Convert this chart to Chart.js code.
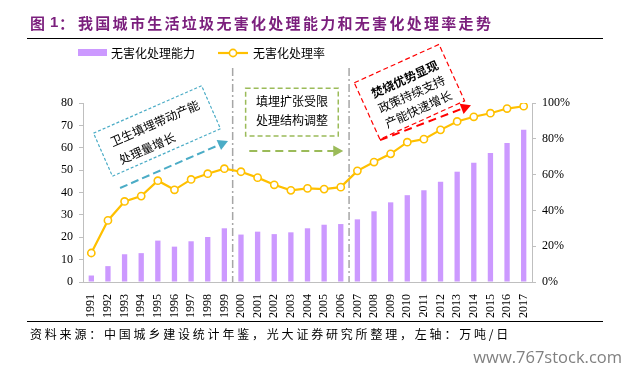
<!DOCTYPE html>
<html>
<head>
<meta charset="utf-8">
<script src="https://cdn.jsdelivr.net/npm/chart.js@4.4.1/dist/chart.umd.min.js"></script>
<style>
  html, body { margin: 0; padding: 0; background: #fff; }
  #wrap { width: 626px; height: 371px; position: relative; }
</style>
</head>
<body>
<div id="wrap"><canvas id="chart"></canvas></div>
<script>
// 年份
var years = ['1991', '1992', '1993', '1994', '1995', '1996', '1997', '1998', '1999', '2000',
  '2001', '2002', '2003', '2004', '2005', '2006', '2007', '2008', '2009', '2010',
  '2011', '2012', '2013', '2014', '2015', '2016', '2017'];
// 无害化处理能力（万吨/日，左轴）
var capacity = [2.9, 7.1, 12.4, 12.9, 18.5, 15.8, 18.2, 20.1, 24.0, 21.2,
  22.5, 21.4, 22.2, 24.0, 25.6, 25.9, 28.0, 31.6, 35.6, 38.8,
  41.0, 44.8, 49.3, 53.3, 57.7, 62.1, 68.0];
// 无害化处理率（%，右轴）
var rate = [16.2, 34.4, 45.0, 48.0, 56.6, 51.5, 57.3, 60.5, 63.3, 61.6,
  58.3, 54.3, 51.2, 52.3, 51.9, 53.0, 62.1, 67.0, 71.6, 78.1,
  79.8, 85.0, 89.7, 92.3, 94.3, 96.9, 98.2];
// 刻度
var leftTicks = [0, 10, 20, 30, 40, 50, 60, 70, 80];
var rightTicks = [0, 20, 40, 60, 80, 100];

var BAR = '#cc99ff';
var GOLD = '#ffc000';
var CJK = '"Noto Sans CJK SC", sans-serif';
var SERIF = '"Liberation Serif", "Times New Roman", serif';

// point in data space -> pixels
function pt(chart, i, v) {
  return [chart.scales.x.getPixelForValue(i), chart.scales.y.getPixelForValue(v)];
}

function arrow(ctx, a, b, color, dash) {
  var ang = Math.atan2(b[1] - a[1], b[0] - a[0]);
  ctx.save();
  ctx.strokeStyle = color;
  ctx.fillStyle = color;
  ctx.lineWidth = 2;
  ctx.setLineDash(dash);
  ctx.beginPath();
  ctx.moveTo(a[0], a[1]);
  ctx.lineTo(b[0] - 8 * Math.cos(ang), b[1] - 8 * Math.sin(ang));
  ctx.stroke();
  ctx.setLineDash([]);
  ctx.translate(b[0], b[1]);
  ctx.rotate(ang);
  ctx.beginPath();
  ctx.moveTo(0, 0);
  ctx.lineTo(-10, -5.5);
  ctx.lineTo(-10, 5.5);
  ctx.closePath();
  ctx.fill();
  ctx.restore();
}

// rotated dashed box with left aligned lines of text
function noteBox(ctx, c, w, h, deg, color, dash, lines) {
  ctx.save();
  ctx.translate(c[0], c[1]);
  ctx.rotate(deg * Math.PI / 180);
  ctx.strokeStyle = color;
  ctx.lineWidth = 1.2;
  ctx.setLineDash(dash);
  ctx.strokeRect(-w / 2, -h / 2, w, h);
  ctx.setLineDash([]);
  ctx.fillStyle = '#000';
  ctx.textBaseline = 'middle';
  ctx.textAlign = 'left';
  lines.forEach(function (l) {
    ctx.font = (l.bold ? 'bold ' : '') + '12px ' + CJK;
    ctx.fillText(l.text, l.x, l.y);
  });
  ctx.restore();
}

// draw text glyph by glyph with a fixed advance
function spaced(ctx, str, x, y, step) {
  for (var k = 0; k < str.length; k++) {
    var ch = str[k];
    ctx.fillText(ch, x, y);
    x += (ch === '/') ? step / 2 : step;
  }
}

var decor = {
  id: 'decor',
  beforeDatasetsDraw: function (chart) {
    var ctx = chart.ctx;
    // 分期虚线
    ctx.save();
    ctx.strokeStyle = '#a6a6a6';
    ctx.lineWidth = 1.5;
    ctx.setLineDash([8, 3, 2, 3]);
    [8.5, 15.5].forEach(function (i) {
      var top = pt(chart, i, 95.6), bot = pt(chart, i, 0);
      ctx.beginPath();
      ctx.moveTo(top[0], top[1]);
      ctx.lineTo(bot[0], bot[1]);
      ctx.stroke();
    });
    ctx.restore();
  },
  afterDraw: function (chart) {
    var ctx = chart.ctx;
    ctx.save();

    // 标题
    ctx.fillStyle = '#7b1f7d';
    ctx.textBaseline = 'middle';
    ctx.font = 'bold 15px ' + CJK;
    ctx.fillText('图', 30, 23);
    ctx.font = 'bold 15px "Liberation Sans", Arial, sans-serif';
    ctx.fillText('1', 50, 23);
    ctx.font = 'bold 15px ' + CJK;
    ctx.fillText('：', 59, 23);
    spaced(ctx, '我国城市生活垃圾无害化处理能力和无害化处理率走势', 78, 23, 17.3);

    // 横线
    ctx.strokeStyle = '#000';
    ctx.lineWidth = 1.2;
    ctx.beginPath();
    ctx.moveTo(27, 38.5); ctx.lineTo(603, 38.5);
    ctx.moveTo(27, 321.5); ctx.lineTo(603, 321.5);
    ctx.stroke();

    // 图例
    ctx.fillStyle = BAR;
    ctx.fillRect(78, 49, 29, 7);
    ctx.fillStyle = '#000';
    ctx.font = '12px ' + CJK;
    ctx.fillText('无害化处理能力', 111, 53);
    ctx.strokeStyle = GOLD;
    ctx.lineWidth = 2.2;
    ctx.beginPath(); ctx.moveTo(218, 53); ctx.lineTo(248, 53); ctx.stroke();
    ctx.fillStyle = '#fff';
    ctx.lineWidth = 1.6;
    ctx.beginPath(); ctx.arc(233, 53, 3.6, 0, Math.PI * 2); ctx.fill(); ctx.stroke();
    ctx.fillStyle = '#000';
    ctx.fillText('无害化处理率', 253, 53);

    // 注释框
    noteBox(ctx, pt(chart, 3.95, 67.5), 118, 47, -23.7, '#4bacc6', [3, 2], [
      { text: '卫生填埋带动产能', x: -47, y: -8 },
      { text: '处理量增长', x: -46, y: 12 }
    ]);
    arrow(ctx, pt(chart, 1.73, 42.0), pt(chart, 8.22, 63.0), '#4bacc6', [8, 4]);

    var g1 = pt(chart, 9.28, 86.6), g2 = pt(chart, 14.85, 65.3);
    ctx.strokeStyle = '#9bbb59';
    ctx.lineWidth = 1.5;
    ctx.setLineDash([5, 3]);
    ctx.strokeRect(g1[0], g1[1], g2[0] - g1[0], g2[1] - g1[1]);
    ctx.setLineDash([]);
    ctx.fillStyle = '#000';
    ctx.textAlign = 'center';
    ctx.font = '12px ' + CJK;
    var t1 = pt(chart, 12.07, 80.6), t2 = pt(chart, 12.07, 72.1);
    ctx.fillText('填埋扩张受限', t1[0], t1[1]);
    ctx.fillText('处理结构调整', t2[0], t2[1]);
    ctx.textAlign = 'left';
    arrow(ctx, pt(chart, 9.5, 58.5), pt(chart, 15.15, 58.5), '#9bbb59', [8, 5]);

    noteBox(ctx, pt(chart, 19.13, 85.0), 93, 62, -24.4, '#ff0000', [5, 3], [
      { text: '焚烧优势显现', x: -35, y: -13.5, bold: true },
      { text: '政策持续支持', x: -35, y: 3 },
      { text: '产能快速增长', x: -35, y: 19.5 }
    ]);
    arrow(ctx, pt(chart, 17.36, 63.4), pt(chart, 22.83, 79.0), '#ff0000', [8, 5]);

    // 资料来源
    ctx.fillStyle = '#000';
    ctx.font = '12px ' + CJK;
    spaced(ctx, '资料来源：中国城乡建设统计年鉴，光大证券研究所整理，左轴：万吨/日', 30, 334, 14.8);

    // 水印
    ctx.fillStyle = '#808080';
    ctx.font = '16.5px "Open Sans", "DejaVu Sans", sans-serif';
    ctx.textAlign = 'right';
    ctx.fillText('www.767stock.com', 622, 358);

    ctx.restore();
  }
};

var tickFont = { family: SERIF, size: 12 };

new Chart(document.getElementById('chart'), {
  type: 'bar',
  data: {
    labels: years,
    datasets: [{
      type: 'line',
      label: '无害化处理率',
      data: rate,
      yAxisID: 'y1',
      borderColor: GOLD,
      borderWidth: 2.2,
      pointRadius: 3.6,
      pointBorderWidth: 1.6,
      pointBackgroundColor: '#fff',
      pointBorderColor: GOLD,
      tension: 0,
      order: 0
    }, {
      type: 'bar',
      label: '无害化处理能力',
      data: capacity,
      yAxisID: 'y',
      backgroundColor: BAR,
      barPercentage: 0.32,
      categoryPercentage: 1,
      order: 1
    }]
  },
  options: {
    responsive: true,
    maintainAspectRatio: false,
    animation: false,
    layout: { padding: { top: 103, left: 0, right: 0, bottom: 0 } },
    scales: {
      x: {
        offset: true,
        grid: { display: false },
        border: { color: '#bfbfbf' },
        ticks: { minRotation: 90, maxRotation: 90, autoSkip: false, padding: 4, color: '#000', font: tickFont },
        afterFit: function (s) { s.height = 89; }
      },
      y: {
        position: 'left',
        min: 0,
        max: 80,
        afterBuildTicks: function (s) { s.ticks = leftTicks.map(function (v) { return { value: v }; }); },
        grid: { drawOnChartArea: false, tickLength: 4, color: '#bfbfbf' },
        border: { color: '#bfbfbf' },
        ticks: { padding: 6, color: '#000', font: tickFont },
        afterFit: function (s) { s.width = 83; }
      },
      y1: {
        position: 'right',
        min: 0,
        max: 100,
        afterBuildTicks: function (s) { s.ticks = rightTicks.map(function (v) { return { value: v }; }); },
        grid: { drawOnChartArea: false, tickLength: 4, color: '#bfbfbf' },
        border: { color: '#bfbfbf' },
        ticks: { padding: 6, color: '#000', font: tickFont, callback: function (v) { return v + '%'; } },
        afterFit: function (s) { s.width = 94; }
      }
    },
    plugins: {
      legend: { display: false },
      tooltip: { enabled: false },
      title: { display: false }
    }
  },
  plugins: [decor]
});
</script>
</body>
</html>
